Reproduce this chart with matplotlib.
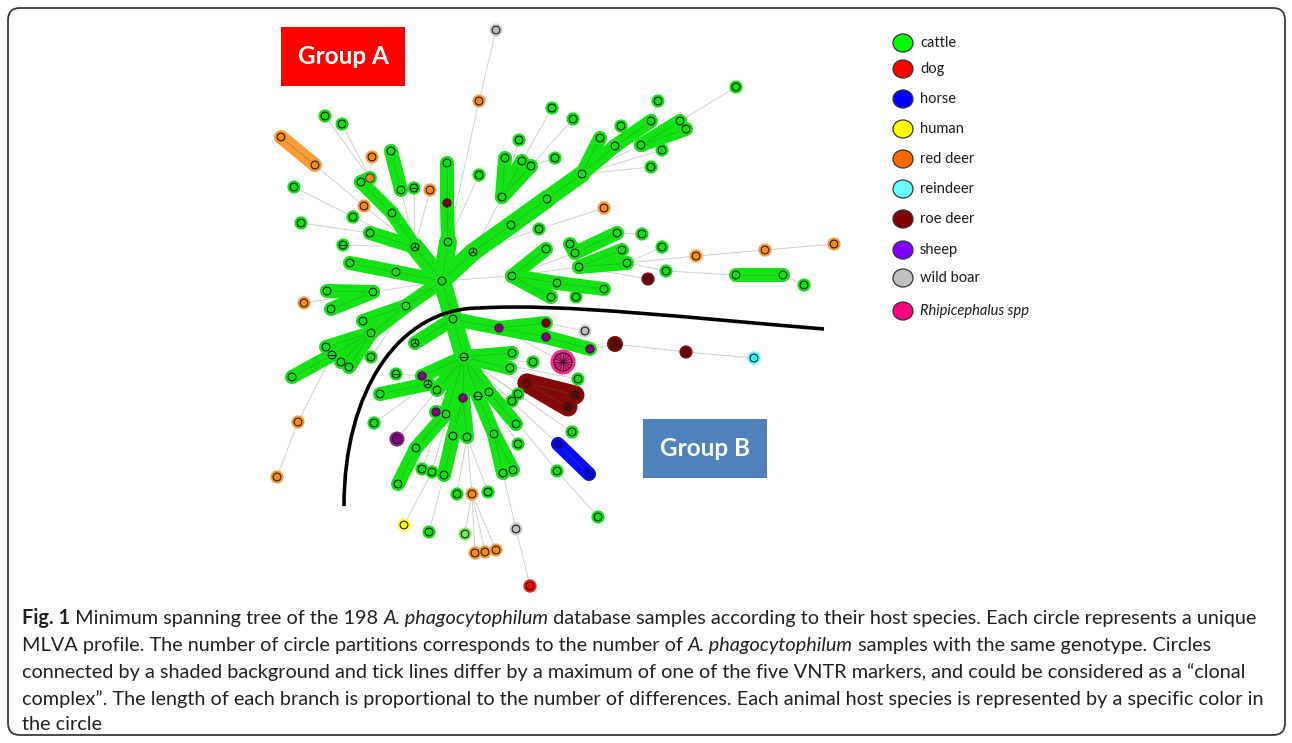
import matplotlib
matplotlib.use("Agg")
import matplotlib.pyplot as plt
from matplotlib import patches
from matplotlib.path import Path
import numpy as np

# ---------------- data ----------------
# node positions (pixel coordinates of the picture), host species and number of partitions
node_x = [442, 415, 447, 447, 448, 496, 479, 479, 325, 342,   # 0-9
          281, 315, 372, 391, 401, 414, 430, 361, 370, 392,   # 10-19
          294, 364, 353, 301, 370, 343, 350, 396, 327, 373,   # 20-29
          331, 304, 406, 363, 371, 326, 332, 341, 349, 292,   # 30-39
          371, 298, 277, 473, 511, 547, 582, 502, 505, 522,   # 40-49
          531, 519, 552, 573, 555, 539, 604, 600, 615, 651,   # 50-59
          641, 680, 686, 621, 658, 736, 662, 651, 512, 546,   # 60-69
          557, 604, 551, 576, 570, 575, 617, 579, 622, 627,   # 70-79
          642, 662, 666, 648, 696, 765, 834, 736, 783, 804,   # 80-89
          453, 464, 415, 499, 546, 546, 590, 585, 615, 686,   # 90-99
          754, 563, 512, 510, 533, 578, 527, 575, 568, 518,   # 100-109
          512, 516, 518, 572, 558, 589, 557, 598, 489, 478,   # 110-119
          463, 494, 503, 513, 453, 467, 444, 432, 422, 436,   # 120-129
          446, 416, 398, 397, 374, 428, 437, 422, 396, 380,   # 130-139
          457, 472, 488, 404, 429, 465, 475, 485, 496, 516,   # 140-149
          530]                                                # 150
node_y = [281, 247, 163, 203, 242, 30, 101, 175, 116, 124,
          137, 165, 157, 151, 190, 188, 190, 182, 178, 213,
          187, 206, 217, 223, 233, 245, 263, 272, 291, 292,
          309, 303, 306, 321, 333, 347, 355, 362, 367, 377,
          357, 422, 477, 252, 225, 199, 174, 197, 158, 161,
          166, 140, 108, 119, 158, 229, 208, 138, 146, 121,
          145, 121, 129, 126, 101, 87, 150, 167, 276, 249,
          283, 289, 297, 297, 244, 253, 233, 267, 250, 263,
          234, 247, 271, 279, 256, 250, 244, 275, 275, 285,
          319, 357, 343, 328, 323, 337, 349, 331, 344, 352,
          358, 362, 353, 368, 362, 379, 383, 395, 407, 394,
          401, 424, 444, 432, 444, 474, 471, 517, 392, 396,
          398, 434, 473, 470, 436, 437, 475, 472, 469, 412,
          414, 448, 484, 439, 423, 384, 390, 376, 374, 394,
          494, 494, 492, 525, 532, 534, 553, 552, 550, 529,
          586]
node_host = ["C", "C", "C", "RO", "C", "WB", "RD", "C", "C", "C",
             "RD", "RD", "RD", "C", "C", "C", "RD", "C", "RD", "C",
             "C", "RD", "C", "C", "C", "C", "C", "C", "C", "C",
             "C", "RD", "C", "C", "C", "C", "C", "C", "C", "C",
             "C", "RD", "RD", "C", "C", "C", "C", "C", "C", "C",
             "C", "C", "C", "C", "C", "C", "RD", "C", "C", "C",
             "C", "C", "C", "C", "C", "C", "C", "C", "C", "C",
             "C", "C", "C", "C", "C", "C", "C", "C", "C", "C",
             "C", "C", "C", "RO", "RD", "RD", "RD", "C", "C", "C",
             "C", "C", "C", "SH", "RO", "SH", "SH", "WB", "RO", "RO",
             "RE", "RH", "C", "C", "C", "C", "RO", "RO", "RO", "C",
             "C", "C", "C", "C", "HO", "HO", "C", "C", "C", "C",
             "SH", "C", "C", "C", "C", "C", "C", "C", "C", "SH",
             "C", "C", "C", "SH", "C", "C", "C", "SH", "C", "C",
             "C", "RD", "C", "HU", "C", "LG", "RD", "RD", "RD", "WB",
             "DO"]
node_parts = [1, 3, 1, 1, 1, 1, 1, 1, 1, 1,
              1, 1, 1, 1, 1, 2, 1, 1, 1, 1,
              1, 1, 1, 1, 1, 2, 1, 1, 1, 1,
              1, 1, 1, 1, 1, 1, 2, 1, 1, 1,
              1, 1, 1, 3, 1, 1, 1, 1, 1, 1,
              1, 1, 1, 1, 1, 1, 1, 1, 1, 1,
              1, 1, 1, 1, 1, 1, 1, 1, 1, 1,
              1, 1, 1, 1, 1, 1, 1, 1, 1, 1,
              1, 1, 1, 1, 1, 1, 1, 1, 1, 1,
              1, 2, 3, 1, 1, 1, 1, 1, 3, 1,
              1, 16, 1, 1, 1, 1, 1, 3, 3, 1,
              1, 1, 1, 1, 1, 1, 1, 1, 1, 2,
              1, 1, 1, 1, 1, 1, 1, 1, 1, 1,
              1, 1, 1, 1, 1, 3, 1, 1, 2, 1,
              1, 1, 1, 1, 1, 1, 1, 1, 1, 1,
              1]

# clonal-complex links (shaded background) and plain links
band_links = [(0, 4), (4, 3), (3, 2), (0, 1), (1, 24), (1, 19), (19, 17), (17, 18),
              (13, 14), (10, 11), (0, 27), (27, 26), (29, 28), (29, 30),
              (0, 32), (32, 33), (32, 34), (34, 36), (36, 39), (34, 35), (34, 37), (34, 38),
              (0, 43), (43, 44), (44, 45), (45, 46), (46, 57), (46, 58), (58, 59),
              (60, 61), (60, 62), (47, 48), (47, 49), (47, 50),
              (68, 69), (68, 70), (70, 71), (68, 72), (74, 75), (75, 76), (77, 78), (77, 79),
              (87, 88), (0, 90), (90, 91), (90, 92), (90, 93), (93, 94), (93, 95), (95, 96),
              (91, 102), (91, 103), (91, 137), (137, 135), (135, 139), (91, 136),
              (91, 120), (120, 125), (120, 124), (124, 126),
              (91, 119), (119, 121), (121, 122), (121, 123), (91, 118), (118, 111),
              (91, 130), (130, 129), (130, 131), (131, 132),
              (106, 107), (106, 108), (114, 115)]
band_colour_host = {(10, 11): "RD", (106, 107): "RO", (106, 108): "RO", (114, 115): "HO"}
wide_links = {(0, 4): 18, (0, 1): 18, (0, 43): 18, (43, 44): 18, (44, 45): 18, (45, 46): 17,
              (0, 90): 18, (90, 91): 18, (106, 107): 19, (106, 108): 19}
thin_links = [(5, 6), (6, 4), (7, 4), (8, 18), (9, 18), (12, 18), (11, 21), (20, 22), (21, 1),
              (22, 1), (23, 24), (25, 1), (14, 1), (15, 1), (16, 1),
              (29, 0), (31, 29), (40, 32), (41, 36), (42, 41),
              (43, 47), (43, 55), (55, 56), (51, 47), (52, 49), (53, 50), (54, 50),
              (46, 60), (46, 66), (46, 67), (63, 58), (64, 59), (65, 61),
              (0, 68), (68, 75), (68, 77), (76, 80), (79, 81), (79, 82), (82, 87), (79, 84),
              (84, 85), (85, 86), (88, 89), (77, 83), (70, 73),
              (94, 97), (96, 98), (98, 99), (99, 100), (93, 101),
              (91, 104), (91, 105), (91, 106), (91, 109), (91, 110), (91, 112), (91, 113),
              (91, 114), (91, 116), (116, 117), (134, 135), (138, 137), (133, 136),
              (127, 91), (128, 91), (140, 125), (141, 125), (142, 125), (143, 127),
              (144, 126), (141, 145), (141, 146), (141, 147), (141, 148), (149, 122), (150, 149)]
inband_nodes = [3, 18, 93, 94, 95, 96, 120, 129, 137]
big_nodes = {98: (8.0, 5.2), 133: (7.5, 4.6), 101: (12.5, 9.0)}

legend_labels = ["cattle", "dog", "horse", "human", "red deer", "reindeer",
                 "roe deer", "sheep", "wild boar", "Rhipicephalus spp"]
legend_colors = ["#00ff00", "#ff0000", "#0000ff", "#ffff00", "#ff6600", "#66ffff",
                 "#800000", "#8000ff", "#c0c0c0", "#ff0080"]

host_fill = {"C": "#10e010", "RD": "#f98a1c", "RO": "#760000", "SH": "#800080",
             "WB": "#bdbdbd", "RE": "#33f0ff", "RH": "#ff1a8c", "HO": "#0000ff",
             "HU": "#ffff00", "DO": "#ff0000", "LG": "#74ea50"}
host_halo = {"C": "#13e313", "RD": "#ff9a38", "RO": "#840808", "SH": "#8c1a8c",
             "WB": "#cfcfcf", "RE": "#5cf6ff", "RH": "#ff2890", "HO": "#0a0aff",
             "HU": "#ffff30", "DO": "#ff1414", "LG": "#82f060"}

caption_lines = [
    [("Fig. 1", "bold"), (" Minimum spanning tree of the 198 ", "normal"),
     ("A. phagocytophilum", "italic"),
     (" database samples according to their host species. Each circle represents a unique", "normal")],
    [("MLVA profile. The number of circle partitions corresponds to the number of ", "normal"),
     ("A. phagocytophilum", "italic"), (" samples with the same genotype. Circles", "normal")],
    [("connected by a shaded background and tick lines differ by a maximum of one of the five "
      "VNTR markers, and could be considered as a \u201cclonal", "normal")],
    [("complex\u201d. The length of each branch is proportional to the number of differences. "
      "Each animal host species is represented by a specific color in", "normal")],
    [("the circle", "normal")],
]

# ---------------- figure ----------------
W, H = 1292, 743
fig = plt.figure(figsize=(W / 100, H / 100), dpi=100)
ax = fig.add_axes([0, 0, 1, 1])
ax.set_xlim(0, W)
ax.set_ylim(H, 0)
ax.axis("off")
PT = 0.72  # points per pixel

# frame
frame = patches.FancyBboxPatch((8, 8), 1277, 727, boxstyle="round,pad=0,rounding_size=12",
                               fill=False, edgecolor="#3a3a3a", lw=1.3)
ax.add_patch(frame)

# thin links
for a, b in thin_links:
    ax.plot([node_x[a], node_x[b]], [node_y[a], node_y[b]], color="#cdcdcd", lw=0.9 * PT,
            zorder=1, solid_capstyle="butt")

# bands
for a, b in band_links:
    host = band_colour_host.get((a, b), "C")
    w = wide_links.get((a, b), 14)
    ax.plot([node_x[a], node_x[b]], [node_y[a], node_y[b]], color=host_halo[host],
            lw=w * PT, solid_capstyle="round", zorder=2)
for a, b in band_links:
    ax.plot([node_x[a], node_x[b]], [node_y[a], node_y[b]], color="#2f7f2f", lw=0.5,
            alpha=0.5, zorder=3)

# nodes
for i in range(len(node_x)):
    x, y, h, p = node_x[i], node_y[i], node_host[i], node_parts[i]
    if i in inband_nodes:
        ax.add_patch(patches.Circle((x, y), 4.2, facecolor=host_fill[h],
                                    edgecolor="#3a1030", lw=0.6, zorder=5))
        continue
    rh, ri = big_nodes.get(i, (6.6, 3.9))
    ax.add_patch(patches.Circle((x, y), rh, facecolor=host_halo[h], edgecolor="none", zorder=4))
    ax.add_patch(patches.Circle((x, y), ri, facecolor=host_fill[h], edgecolor="#1c1c1c",
                                lw=0.8, zorder=5))
    if p == 2:
        ax.plot([x - ri, x + ri], [y, y], color="#1c1c1c", lw=0.7, zorder=6)
    elif p >= 3:
        for k in range(p):
            ang = np.pi / 2 + 2 * np.pi * k / p
            ax.plot([x, x + ri * np.cos(ang)], [y, y - ri * np.sin(ang)],
                    color="#1c1c1c", lw=0.7 if p < 10 else 0.5, zorder=6)

# separating curve between groups
verts = [(344, 506), (344, 392), (398, 308), (480, 308),
         (560, 303), (690, 318), (824, 329)]
codes = [Path.MOVETO, Path.CURVE4, Path.CURVE4, Path.CURVE4,
         Path.CURVE4, Path.CURVE4, Path.CURVE4]
ax.add_patch(patches.PathPatch(Path(verts, codes), fill=False, edgecolor="black",
                               lw=3.6 * PT, zorder=7, capstyle="butt"))

# group boxes
ax.add_patch(patches.Rectangle((281, 27), 124, 59, facecolor="#ff0000", edgecolor="none", zorder=8))
ax.text(343, 57, "Group A", color="white", fontsize=17.5, fontweight="bold",
        family="Lato", ha="center", va="center", zorder=9)
ax.add_patch(patches.Rectangle((643, 419), 124, 59, facecolor="#4f81bd", edgecolor="none", zorder=8))
ax.text(705, 449, "Group B", color="white", fontsize=17.5, fontweight="bold",
        family="Lato", ha="center", va="center", zorder=9)

# legend
legend_y = [43, 69, 99, 129, 159, 189, 219, 250, 278, 311]
for lab, col, ly in zip(legend_labels, legend_colors, legend_y):
    ax.add_patch(patches.Ellipse((903, ly), 20, 18, facecolor=col, edgecolor="#333333",
                                 lw=0.9, zorder=8))
    ax.text(920, ly, lab, fontsize=10.5, family="Lato", color="#1a1a1a", va="center",
            ha="left", style="italic" if lab.startswith("Rhip") else "normal", zorder=9)

# caption
cap_family = "Lato"
renderer = fig.canvas.get_renderer()


def seg_props(st):
    return dict(family=cap_family,
                fontweight="bold" if st == "bold" else "normal",
                style="italic" if st == "italic" else "normal")


def line_width(segs, size):
    tot = 0
    for s, st in segs:
        t = ax.text(0, 0, s.replace(" ", "\u00a0"), fontsize=size, **seg_props(st))
        tot += t.get_window_extent(renderer).width
        t.remove()
    return tot


base = 12.0
scale = (1250 - 22) / line_width(caption_lines[0], base)
cap_size = base * scale
baselines = [624, 651, 678, 705, 730]
for segs, yb in zip(caption_lines, baselines):
    x = 22
    for s, st in segs:
        t = ax.text(x, yb, s.replace(" ", "\u00a0"), fontsize=cap_size, color="#231f20",
                    va="baseline", ha="left", **seg_props(st))
        x += t.get_window_extent(renderer).width

fig.savefig("out.png", dpi=100)
